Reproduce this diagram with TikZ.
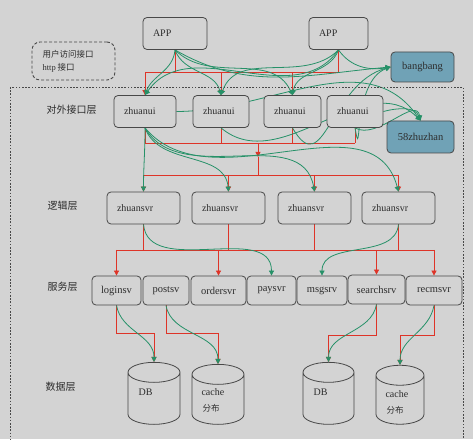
\documentclass[tikz,border=0pt]{standalone}
\usepackage{fontspec}
\setmainfont{Liberation Serif}
\newfontfamily\cjk{Noto Sans CJK SC}
\usepackage{tikz}
\usetikzlibrary{positioning,calc,shapes.geometric,arrows.meta}
\definecolor{PaperGray}{RGB}{211,211,211}
\definecolor{BoxEdge}{RGB}{72,72,72}
\definecolor{InkGray}{RGB}{45,45,45}
\definecolor{WireRed}{RGB}{222,52,40}
\definecolor{WireGreen}{RGB}{38,145,104}
\definecolor{PanelTeal}{RGB}{112,162,182}
\pgfdeclarelayer{paper}
\pgfdeclarelayer{wires}
\pgfsetlayers{paper,wires,main}
\tikzset{
  tbox/.style={draw=BoxEdge, fill=PaperGray, rounded corners=4pt, line width=0.8pt,
    inner xsep=10pt, align=left, text width=#1, minimum height=32pt,
    text=InkGray, font=\fontsize{10}{12}\selectfont},
  srvbox/.style={draw=BoxEdge, fill=PaperGray, rounded corners=4pt, line width=0.8pt,
    inner xsep=2pt, minimum height=29pt, text=InkGray, font=\fontsize{10.5}{12}\selectfont},
  extbox/.style={draw=BoxEdge, fill=PanelTeal, rounded corners=4pt, line width=0.8pt,
    minimum width=63pt, minimum height=30pt, text=InkGray, font=\fontsize{10.5}{12}\selectfont},
  dbcyl/.style={cylinder, shape border rotate=90, draw=BoxEdge, fill=PaperGray,
    line width=0.8pt, aspect=3, minimum width=52pt, minimum height=62pt},
  layer/.style={anchor=west, text=InkGray, font=\cjk\fontsize{10}{12}\selectfont},
  cntext/.style={anchor=west, text=InkGray, font=\cjk\fontsize{8.5}{10}\selectfont},
  dbtext/.style={anchor=west, text=InkGray, font=\fontsize{10}{12}\selectfont},
  redline/.style={draw=WireRed, line width=0.8pt},
  redarrow/.style={redline, -{Triangle[length=5pt,width=5pt]}},
  greenarrow/.style={draw=WireGreen, line width=0.8pt, -{Triangle[length=5pt,width=5pt]}},
}

\begin{document}
\begin{tikzpicture}[x=1pt,y=1pt]
  \begin{pgfonlayer}{paper}
    \fill[PaperGray] (0,0) rectangle (473,439);
  \end{pgfonlayer}
  \useasboundingbox (0,0) rectangle (473,439);

  % frames
  \draw[BoxEdge, line width=0.7pt, dash pattern=on 1.6pt off 1.6pt] (10,352) rectangle (463,-5);
  \node[draw=BoxEdge, line width=0.9pt, dash pattern=on 3pt off 2pt, rounded corners=8pt,
        minimum width=83pt, minimum height=38pt] (user) at (73.5,378) {};
  \node[cntext] (usera) at (39,385) {用户访问接口};
  \node[cntext] (userb) at (39,371) {{\rmfamily http} 接口};

  % layer names
  \node[layer] (lyui) at (43,329) {对外接口层};
  \node[layer] (lysvr) at (44,233) {逻辑层};
  \node[layer] (lysrv) at (44,152) {服务层};
  \node[layer] (lydata) at (42,52) {数据层};

  % entry
  \node[tbox=44pt] (app1) at (175,405.5) {APP};
  \node[tbox=39pt] (app2) at (338.5,405.5) {APP};

  % zhuanui
  \node[tbox=42pt] (ui1) at (145,327.5) {zhuanui};
  \node[tbox=36pt] (ui2) at (221,327.5) {zhuanui};
  \node[tbox=37pt] (ui3) at (292.5,327.5) {zhuanui};
  \node[tbox=36pt] (ui4) at (355,327.5) {zhuanui};
  \node[extbox] (bang) at (422.5,372) {bangbang};
  \node[extbox, minimum width=67pt, minimum height=32pt] (zhan) at (420.5,302) {58zhuzhan};

  % zhuansvr
  \node[tbox=53pt] (svr1) at (143.5,231) {zhuansvr};
  \node[tbox=53pt] (svr2) at (228.5,231) {zhuansvr};
  \node[tbox=53pt] (svr3) at (314.5,231) {zhuansvr};
  \node[tbox=53pt] (svr4) at (398.5,231) {zhuansvr};

  % services
  \node[srvbox, minimum width=49pt] (login) at (116.5,148.5) {loginsv};
  \node[srvbox, minimum width=46pt] (post) at (166,148.5) {postsv};
  \node[srvbox, minimum width=55pt] (order) at (218.5,148.5) {ordersvr};
  \node[srvbox, minimum width=49pt] (pay) at (271.5,148.5) {paysvr};
  \node[srvbox, minimum width=50pt] (msg) at (322,148.5) {msgsrv};
  \node[srvbox, minimum width=57pt] (search) at (376.5,149.5) {searchsrv};
  \node[srvbox, minimum width=56pt] (recm) at (434,148.5) {recmsvr};

  % storage
  \node[dbcyl] (db1) at (154,38) {};
  \node[dbcyl, minimum height=60pt] (cache1) at (218,37) {};
  \node[dbcyl, minimum width=51pt] (db2) at (328.5,38) {};
  \node[dbcyl, minimum width=48pt, minimum height=59pt] (cache2) at (400,36.5) {};
  \node[dbtext] (dbt1) at (135,47) {DB};
  \node[dbtext] (ct1) at (198,47) {cache};
  \node[cntext] (cb1) at (199,31) {分布};
  \node[dbtext] (dbt2) at (310,47) {DB};
  \node[dbtext] (ct2) at (382,45) {cache};
  \node[cntext] (cb2) at (383,29) {分布};

  \begin{pgfonlayer}{wires}
    % red: app -> zhuanui
    \coordinate (appbus) at (0,367);
    \draw[redline] (app1.south) -- (app1.south |- appbus);
    \draw[redline] (app2.south) -- (app2.south |- appbus);
    \draw[redline] (ui1.north |- appbus) -- (app2.south |- appbus);
    \draw[redarrow] (ui1.north |- appbus) -- (ui1.north);
    \draw[redarrow] (ui2.north |- appbus) -- (ui2.north);
    \draw[redarrow] (ui3.north |- appbus) -- (ui3.north);

    % red: zhuanui -> zhuansvr
    \coordinate (uibus) at (0,296);
    \coordinate (uijoin) at (258,296);
    \coordinate (midtip) at (258,282);
    \coordinate (svrbus) at (0,264);
    \draw[redline] (ui1.south) -- (ui1.south |- uibus);
    \draw[redline] (ui2.south) -- (ui2.south |- uibus);
    \draw[redline] (ui3.south) -- (ui3.south |- uibus);
    \draw[redline] (ui4.south) -- (ui4.south |- uibus);
    \draw[redline] (ui1.south |- uibus) -- (ui4.south |- uibus);
    \draw[redarrow] (uijoin) -- (midtip);
    \draw[redline] (midtip) -- (midtip |- svrbus);
    \draw[redline] (svr1.north |- svrbus) -- (svr4.north |- svrbus);
    \draw[redarrow] (svr1.north |- svrbus) -- (svr1.north);
    \draw[redarrow] (svr2.north |- svrbus) -- (svr2.north);
    \draw[redarrow] (svr3.north |- svrbus) -- (svr3.north);
    \draw[redarrow] (svr4.north |- svrbus) -- (svr4.north);

    % red: zhuansvr -> services
    \coordinate (srvbus) at (0,189);
    \draw[redline] (svr1.south) -- (svr1.south |- srvbus);
    \draw[redline] (svr2.south) -- (svr2.south |- srvbus);
    \draw[redline] (svr3.south) -- (svr3.south |- srvbus);
    \draw[redline] (svr4.south) -- (svr4.south |- srvbus);
    \draw[redline] (login.north |- srvbus) -- (recm.north |- srvbus);
    \draw[redarrow] (login.north |- srvbus) -- (login.north);
    \draw[redarrow] (order.north |- srvbus) -- (order.north);
    \draw[redarrow] (search.north |- srvbus) -- (search.north);
    \draw[redarrow] (recm.north |- srvbus) -- (recm.north);

    % red: services -> storage
    \coordinate (databusl) at (0,106);
    \coordinate (databusr) at (0,104);
    \draw[redarrow] (login.south) -- (login.south |- databusl) -| (db1.north);
    \draw[redarrow] (post.south) -- (post.south |- databusl) -| (cache1.north);
    \draw[redarrow] (search.south) -- (search.south |- databusr) -| (db2.north);
    \draw[redarrow] (recm.south) -- (recm.south |- databusr) -| (cache2.north);

    % green: app -> zhuanui and outside
    \draw[greenarrow] (app1.south) to[out=-95,in=70] (ui1.north);
    \draw[greenarrow] (app1.south) to[out=-70,in=105] (ui2.north);
    \draw[greenarrow] (app1.south) to[out=-45,in=115] (ui3.north);
    \draw[greenarrow] (app1.south) to[out=-30,in=185] (bang.west);
    \draw[greenarrow] (app2.south) to[out=-125,in=55] (ui1.north);
    \draw[greenarrow] (app2.south) to[out=-135,in=70] (ui2.north);
    \draw[greenarrow] (app2.south) to[out=-110,in=80] (ui3.north);
    \draw[greenarrow] (app2.south) to[out=-55,in=190] (bang.west);

    % green: zhuanui -> outside
    \draw[greenarrow] (ui1.east) to[out=0,in=125] (zhan.north);
    \draw[greenarrow] (ui2.south) to[out=-40,in=135] (zhan.north);
    \draw[greenarrow] (ui3.south) to[out=-60,in=195,looseness=1.4] (bang.west);
    \draw[greenarrow] (ui4.south) to[out=-80,in=200,looseness=1.5] (bang.west);
    \draw[greenarrow] (ui4.east) to[out=15,in=110] (zhan.north);
    \draw[greenarrow] (ui4.south) to[out=-30,in=100] (zhan.north);

    % green: zhuanui -> zhuansvr
    \draw[greenarrow] (ui1.south) to[out=-90,in=90] (svr1.north);
    \draw[greenarrow] (ui1.south) to[out=-70,in=95] (svr2.north);
    \draw[greenarrow] (ui1.south) to[out=-60,in=100] (svr3.north);
    \draw[greenarrow] (ui1.south) to[out=-50,in=105] (svr4.north);

    % green: zhuansvr -> services
    \draw[greenarrow] (svr1.south) to[out=-85,in=90] (pay.north);
    \draw[greenarrow] (svr4.south) to[out=-95,in=90] (msg.north);

    % green: services -> storage
    \draw[greenarrow] (login.south) to[out=-80,in=90] (db1.north);
    \draw[greenarrow] (post.south) to[out=-80,in=90] (cache1.north);
    \draw[greenarrow] (search.south) to[out=-100,in=90] (db2.north);
    \draw[greenarrow] (recm.south) to[out=-100,in=90] (cache2.north);
  \end{pgfonlayer}
\end{tikzpicture}
\end{document}
